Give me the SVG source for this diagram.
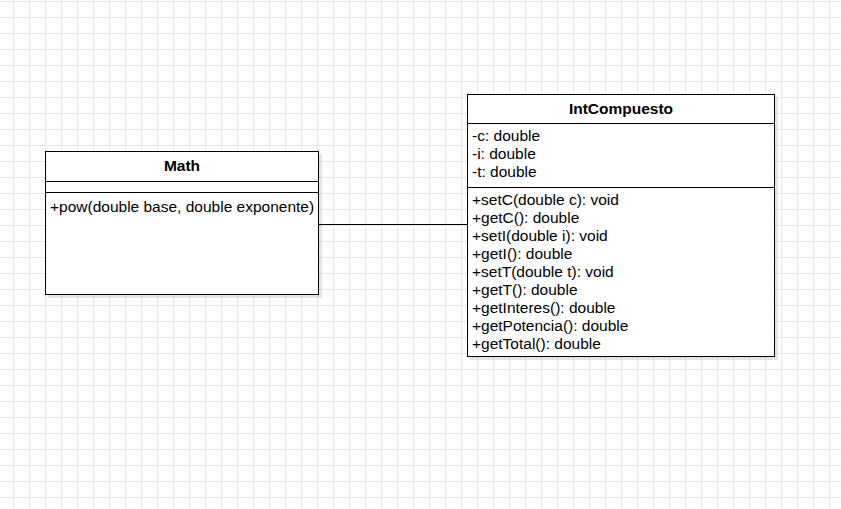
<svg xmlns="http://www.w3.org/2000/svg" width="841" height="509" viewBox="0 0 841 509">
<style>
.box{fill:#ffffff;stroke:#000000;stroke-width:1}
.shadow{fill:#000000;opacity:0.1}
.sep{stroke:#000000;stroke-width:1}
.title{font-family:"Liberation Sans",Arial,sans-serif;font-size:15.5px;font-weight:bold;text-anchor:middle;fill:#000}
.item{font-family:"Liberation Sans",Arial,sans-serif;font-size:15.5px;fill:#000}
.conn{stroke:#000000;stroke-width:1;fill:none}
</style>
<defs>
<pattern id="grid" patternUnits="userSpaceOnUse" x="13" y="1" width="16" height="16">
<rect x="0" y="0" width="16" height="1" fill="#e8e8e8"/>
<rect x="0" y="0" width="1" height="16" fill="#e8e8e8"/>
</pattern>
</defs>
<rect x="0" y="0" width="841" height="509" fill="#ffffff"/>
<rect x="0" y="0" width="841" height="509" fill="url(#grid)"/>
<g id="connectors">
<line class="conn" x1="319" y1="224.5" x2="467" y2="224.5"/>
</g>
<g id="math">
<rect class="shadow" x="48" y="154" width="274" height="144"/>
<rect class="box" x="45.5" y="151.5" width="273" height="143"/>
<line class="sep" x1="45.5" y1="181.5" x2="318.5" y2="181.5"/>
<line class="sep" x1="45.5" y1="192.5" x2="318.5" y2="192.5"/>
<text class="title" x="182" y="171">Math</text>
<text class="item" x="50" y="212">+pow(double base, double exponente)</text>
</g>
<g id="intcompuesto">
<rect class="shadow" x="470" y="97" width="308" height="263"/>
<rect class="box" x="467.5" y="94.5" width="307" height="262"/>
<line class="sep" x1="467.5" y1="123.5" x2="774.5" y2="123.5"/>
<line class="sep" x1="467.5" y1="187.5" x2="774.5" y2="187.5"/>
<text class="title" x="621" y="114">IntCompuesto</text>
<text class="item" x="472" y="141">-c: double</text>
<text class="item" x="472" y="159">-i: double</text>
<text class="item" x="472" y="177">-t: double</text>
<text class="item" x="472" y="205">+setC(double c): void</text>
<text class="item" x="472" y="223">+getC(): double</text>
<text class="item" x="472" y="241">+setI(double i): void</text>
<text class="item" x="472" y="259">+getI(): double</text>
<text class="item" x="472" y="277">+setT(double t): void</text>
<text class="item" x="472" y="295">+getT(): double</text>
<text class="item" x="472" y="313">+getInteres(): double</text>
<text class="item" x="472" y="331">+getPotencia(): double</text>
<text class="item" x="472" y="349">+getTotal(): double</text>
</g>
</svg>
